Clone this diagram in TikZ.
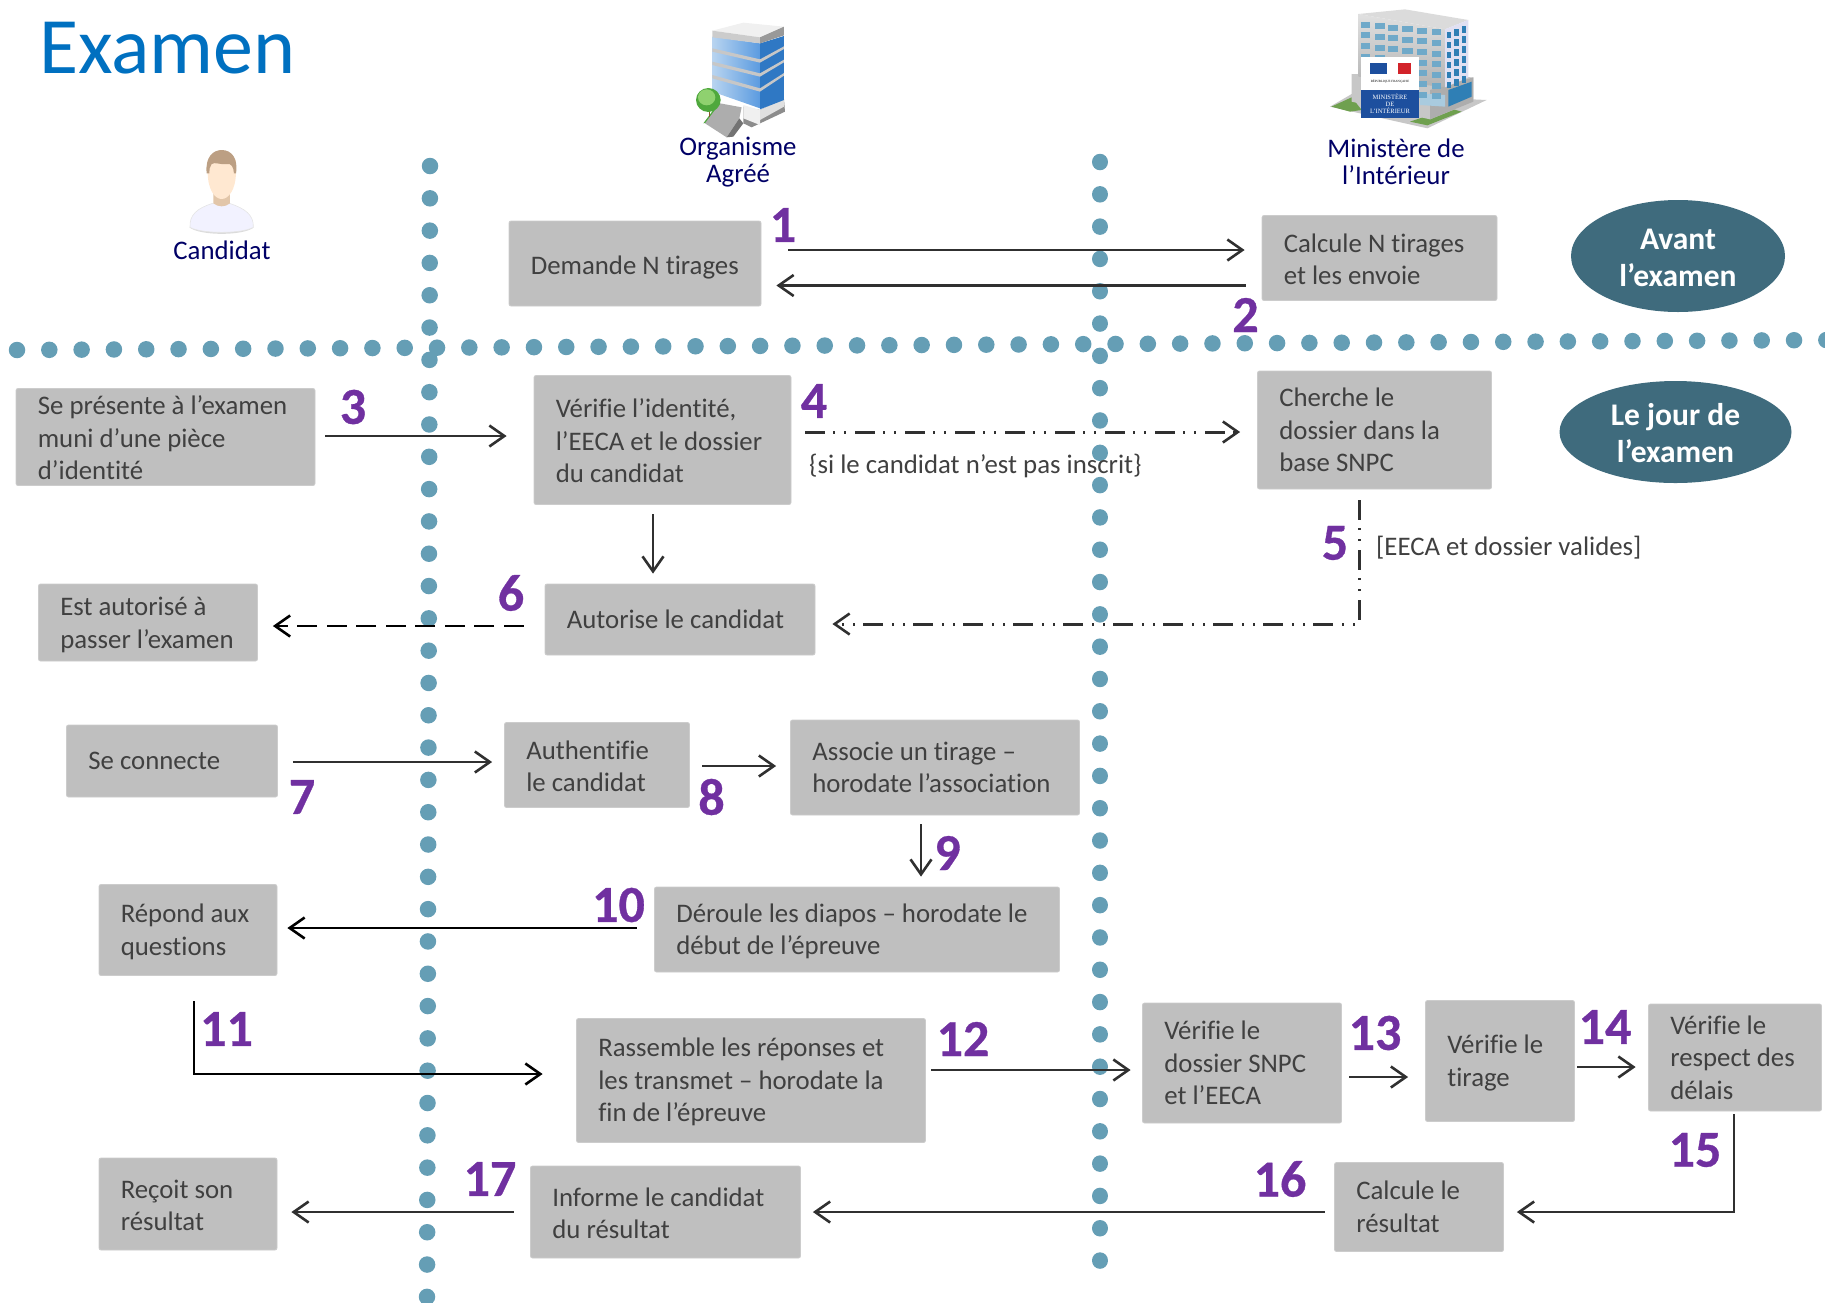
\documentclass[tikz,border=0pt]{standalone}
\usepackage{fontspec}
\setmainfont[Ligatures=NoCommon]{Carlito}
\newfontfamily\serifsmall{Liberation Serif}
\newfontfamily\stepfont[FakeBold=0.6]{Carlito Bold}
\usetikzlibrary{arrows.meta,shapes.geometric}
\definecolor{boxgray}{HTML}{BFBFBF}
\definecolor{boxtext}{HTML}{404040}
\definecolor{dotteal}{HTML}{659EB5}
\definecolor{ovalteal}{HTML}{3F6B7D}
\definecolor{stepviolet}{HTML}{7030A0}
\definecolor{actornavy}{HTML}{000066}
\definecolor{titleblue}{HTML}{0070C0}
\definecolor{linedark}{HTML}{303030}
\definecolor{glasslight}{HTML}{B8D4F0}
\definecolor{glassmid}{HTML}{5B9BE0}
\definecolor{glassdark}{HTML}{2F78C4}
\definecolor{treegreen}{HTML}{4FA83D}
\definecolor{treelight}{HTML}{8FD16F}
\definecolor{winleft}{HTML}{6FA9C9}
\definecolor{winright}{HTML}{2F7FB5}
\definecolor{signblue}{HTML}{1D4F9E}
\definecolor{signred}{HTML}{D2232A}
\definecolor{grass}{HTML}{6FA04F}
\newcommand{\dn}[1]{\rule{0pt}{#1pt}}
\tikzset{
  gbox/.style={fill=boxgray,draw=boxgray!80!white,line width=0.8pt,rounded corners=2pt,inner xsep=21.8pt,inner ysep=0pt,align=flush left,text=boxtext,font=\fontsize{26.8}{32.5}\selectfont},
  oval/.style={ellipse,fill=ovalteal,inner sep=0pt,align=flush center,text=white,font=\fontsize{31.5}{37}\selectfont\bfseries},
  stepnum/.style={text=stepviolet,font=\stepfont\fontsize{52}{52}\selectfont,inner sep=0pt},
  actor/.style={text=actornavy,align=flush center,inner sep=0pt,font=\fontsize{26.8}{27}\selectfont},
  note/.style={text=boxtext,anchor=west,inner sep=0pt,font=\fontsize{26.8}{30}\selectfont},
  flow/.style={draw=linedark,line width=2.7pt,-{Straight Barb[length=15pt,width=21pt,line width=2.6pt]}},
  thinflow/.style={flow,line width=1.9pt},
  blackflow/.style={flow,draw=black},
  dashdotflow/.style={flow,line width=3pt,dash pattern=on 20pt off 8pt on 2pt off 9pt on 2pt off 9pt},
  longdash/.style={blackflow,line width=2.9pt,dash pattern=on 20pt off 9.5pt},
  dotline/.style={draw=dotteal,line width=16.5pt,line cap=round,dash pattern=on 0.01pt off 32.3pt},
}
\begin{document}
\begin{tikzpicture}[x=1pt,y=-1pt]
\useasboundingbox (0,0) rectangle (1825,1302);
% separators
\coordinate (va) at (430,166);
\coordinate (vb) at (427,1298);
\coordinate (wa) at (1100,162);
\coordinate (wb) at (1100,1262);
\coordinate (ha) at (17,350);
\coordinate (hb) at (1836,340);
\draw[dotline] (va) -- (vb);
\draw[dotline] (wa) -- (wb);
\draw[dotline] (ha) -- (hb);
% title
\node[text=titleblue,font=\fontsize{80}{80}\selectfont,inner sep=0pt,anchor=base west] (title) at (39,73) {Examen};
% person icon
\begin{scope}[shift={(170,140)},x=0.3333pt,y=-0.3333pt]
  \fill[black!14] (58,262) .. controls (90,288) and (220,288) .. (252,262) .. controls (220,276) and (90,276) .. (58,262);
  \fill[white!95!blue,draw=black!10,line width=0.6pt] (60,262) .. controls (58,225) and (80,205) .. (128,190) -- (178,190) .. controls (225,205) and (252,225) .. (250,262) .. controls (215,282) and (95,282) .. (60,262) -- cycle;
  \fill[brown!45!white] (130,150) -- (130,190) .. controls (145,202) and (165,202) .. (180,190) -- (180,150) -- cycle;
  \fill[orange!18!white] (113,95) .. controls (113,150) and (135,177) .. (155,177) .. controls (175,177) and (198,150) .. (198,95) -- (198,60) -- (113,60) -- cycle;
  \fill[black!25!brown!60!white] (110,100) .. controls (105,50) and (130,30) .. (155,30) .. controls (185,30) and (205,55) .. (198,100) -- (192,100) .. controls (190,80) and (185,70) .. (170,72) .. controls (150,75) and (135,65) .. (125,72) .. controls (118,80) and (118,90) .. (118,100) -- cycle;
\end{scope}
% organisme icon
\begin{scope}[shift={(680,10)},x=0.3333pt,y=-0.3333pt]
  \fill[black!45] (190,290) -- (240,300) -- (312,268) -- (315,305) -- (215,352) -- (190,340) -- cycle;
  \fill[black!6] (190,285) -- (240,300) -- (240,345) -- (190,325) -- cycle;
  \fill[black!12] (240,300) -- (312,268) -- (312,290) -- (240,330) -- cycle;
  \shade[left color=glasslight,right color=glassmid] (97,80) -- (240,100) -- (240,295) -- (97,245) -- cycle;
  \fill[glassdark] (240,100) -- (312,78) -- (312,270) -- (240,298) -- cycle;
  \foreach \ya/\yb/\yc in {115/148/115,155/190/155,195/235/195}{
    \fill[black!22!white] (97,\ya) -- (240,\yb) -- (312,\yc-6) -- (312,\yc+2) -- (240,\yb+10) -- (97,\ya+10) -- cycle;
  }
  \fill[black!6] (97,62) -- (190,38) -- (312,50) -- (240,82) -- cycle;
  \fill[black!20] (97,62) -- (240,82) -- (240,100) -- (97,82) -- cycle;
  \fill[black!40] (240,82) -- (312,50) -- (312,76) -- (240,100) -- cycle;
  \fill[treegreen] (70,340) -- (115,280) -- (130,290) -- (95,335) -- cycle;
  \fill[black!32] (75,340) -- (120,280) -- (185,292) -- (178,325) -- (140,382) -- cycle;
  \fill[black!55] (140,382) -- (178,325) -- (190,340) -- (160,380) -- cycle;
  \draw[brown!70!black,line width=1.6pt] (88,285) -- (88,320);
  \fill[treegreen] (85,270) ellipse (37 and 36);
  \fill[treelight] (80,262) ellipse (26 and 24);
\end{scope}
% ministere icon
\begin{scope}[shift={(1320,0)},x=0.3333pt,y=-0.3333pt]
  \fill[black!22] (30,320) -- (95,282) -- (500,300) -- (322,385) -- cycle;
  \fill[grass] (34,320) -- (95,292) -- (125,330) -- (90,335) -- cycle;
  \fill[grass] (270,365) -- (390,325) -- (425,335) -- (322,376) -- cycle;
  \fill[black!22] (95,222) -- (460,232) -- (460,305) -- (330,358) -- (95,305) -- cycle;
  \fill[black!32] (330,270) -- (460,232) -- (460,305) -- (330,358) -- cycle;
  \fill[winright] (385,270) -- (455,245) -- (455,290) -- (385,320) -- cycle;
  \fill[winleft!60!white] (300,280) -- (375,285) -- (375,320) -- (300,315) -- cycle;
  \shade[top color=black!12,bottom color=black!30] (115,42) -- (375,88) -- (375,262) -- (115,230) -- cycle;
  \fill[black!14] (115,42) -- (255,28) -- (445,60) -- (375,88) -- cycle;
  \fill[black!42!blue!12!white] (375,88) -- (445,60) -- (445,232) -- (375,262) -- cycle;
  \foreach \c/\w in {122/28,165/30,205/30,245/33,290/30,335/27}{
    \foreach \r in {0,1,2,3,4,5,6}{
      \pgfmathsetmacro{\t}{65+\r*32+(\c-122)*0.11}
      \fill[winleft] (\c,\t) rectangle (\c+\w,\t+18);
    }
  }
  \foreach \c in {380,403,425}{
    \foreach \r in {0,1,2,3,4,5}{
      \pgfmathsetmacro{\t}{95+\r*30-(\c-380)*0.35}
      \fill[winright] (\c,\t) rectangle (\c+14,\t+20);
    }
  }
  \fill[white] (123,172) rectangle (297,270);
  \fill[signblue] (123,270) rectangle (297,353);
  \fill[signblue] (150,190) rectangle (200,222);
  \fill[signred] (235,190) rectangle (272,222);
  \node[text=black,inner sep=0pt,font=\serifsmall\fontsize{3.2}{4}\selectfont] (rf) at (210,243) {RÉPUBLIQUE FRANÇAISE};
  \node[text=white,inner sep=0pt,align=center,font=\serifsmall\fontsize{6.5}{7.4}\selectfont] (mi) at (210,311) {MINISTÈRE\\DE\\L’INTÉRIEUR};
\end{scope}
% actors
\node[actor] (candidat) at (222,250.5) {Candidat};
\node[actor] (organisme) at (738,162.5) {Organisme\\Agréé};
\node[actor] (ministere) at (1396,162) {Ministère de\\l’Intérieur};
% phases
\node[oval,minimum width=214pt,minimum height=112pt] (avant) at (1678,256) {\dn{25}Avant\\l’examen};
\node[oval,minimum width=232pt,minimum height=102pt] (jour) at (1675.5,432) {\dn{25}Le jour de\\l’examen};
% boxes
\node[gbox,text width=208.4pt,minimum height=85pt] (dem) at (635,263.5) {\dn{26}Demande N tirages};
\node[gbox,text width=191.4pt,minimum height=85pt] (calc) at (1379.5,258) {\dn{21}Calcule N tirages\\et les envoie};
\node[gbox,text width=255.4pt,minimum height=97pt] (pres) at (165.5,437) {\dn{21}Se présente à l’examen\\muni d’une pièce\\d’identité};
\node[gbox,text width=213.4pt,minimum height=129pt] (ver) at (662.5,440) {\dn{21}Vérifie l’identité,\\l’EECA et le dossier\\du candidat};
\node[gbox,text width=190.4pt,minimum height=118pt] (cher) at (1374.5,430) {Cherche le\\dossier dans la\\base SNPC};
\node[gbox,text width=226.4pt,minimum height=71pt] (aut) at (680,619.5) {Autorise le candidat};
\node[gbox,text width=175.4pt,minimum height=77pt] (est) at (148,622.5) {\dn{23}Est autorisé à\\passer l’examen};
\node[gbox,text width=167.4pt,minimum height=72pt] (conn) at (172,761) {Se connecte};
\node[gbox,text width=141.4pt,minimum height=85pt] (auth) at (597,765) {\dn{21}Authentifie\\le candidat};
\node[gbox,text width=245.4pt,minimum height=95pt] (asso) at (935,767.5) {Associe un tirage --\\horodate l’association};
\node[gbox,text width=361.4pt,minimum height=85pt] (der) at (857,929.5) {\dn{22}Déroule les diapos -- horodate le\\début de l’épreuve};
\node[gbox,text width=134.4pt,minimum height=91pt] (rep) at (188,930) {\dn{22}Répond aux\\questions};
\node[gbox,text width=305.4pt,minimum height=124pt] (ras) at (751,1080.5) {\dn{22}Rassemble les réponses et\\les transmet -- horodate la\\fin de l’épreuve};
\node[gbox,text width=155.4pt,minimum height=120pt] (vdos) at (1242,1063) {Vérifie le\\dossier SNPC\\et l’EECA};
\node[gbox,text width=105.4pt,minimum height=121pt] (vtir) at (1500,1061) {\dn{23}Vérifie le\\tirage};
\node[gbox,text width=129.4pt,minimum height=107pt] (vres) at (1735,1057.5) {Vérifie le\\respect des\\délais};
\node[gbox,text width=125.4pt,minimum height=89pt] (cres) at (1419,1207) {Calcule le\\résultat};
\node[gbox,text width=226.4pt,minimum height=92pt] (inf) at (665.5,1212) {\dn{21}Informe le candidat\\du résultat};
\node[gbox,text width=134.4pt,minimum height=92pt] (rec) at (188,1204) {\dn{21}Reçoit son\\résultat};
% notes
\node[note] (n4) at (809,466) {\{si le candidat n’est pas inscrit\}};
\node[note] (n5) at (1376,548) {[EECA et dossier valides]};
% step numbers
\node[stepnum] (s1) at (783,225) {1};
\node[stepnum] (s2) at (1245.5,315) {2};
\node[stepnum] (s3) at (353,407) {3};
\node[stepnum] (s4) at (814,401) {4};
\node[stepnum] (s5) at (1335,543) {5};
\node[stepnum] (s6) at (511,593) {6};
\node[stepnum] (s7) at (302,797) {7};
\node[stepnum] (s8) at (711.5,797) {8};
\node[stepnum] (s9) at (947.5,853) {9};
\node[stepnum] (s10) at (618.5,905) {10};
\node[stepnum] (s11) at (226.5,1029) {11};
\node[stepnum] (s12) at (963,1039) {12};
\node[stepnum] (s13) at (1375,1033) {13};
\node[stepnum] (s14) at (1605,1027) {14};
\node[stepnum] (s15) at (1695,1150) {15};
\node[stepnum] (s16) at (1280,1179) {16};
\node[stepnum] (s17) at (490,1179) {17};
% connectors
\draw[flow] ([shift={(27,-13.5)}]dem.east) -- ([shift={(-17,-8)}]calc.west);
\draw[flow] ([shift={(-16,27.5)}]calc.west) -- ([shift={(15,22)}]dem.east);
\draw[flow] ([shift={(10,-1)}]pres.east) -- ([shift={(-27,-4)}]ver.west);
\draw[dashdotflow] ([shift={(14,-8)}]ver.east) -- ([shift={(-17,2)}]cher.west);
\draw[dashdotflow] ([shift={(-15.5,11)}]cher.south) |- ([shift={(17,4.5)}]aut.east);
\draw[thinflow] ([shift={(-9.5,9.5)}]ver.south) -- ([shift={(-27,-10)}]aut.north);
\draw[longdash] ([shift={(-21,6.5)}]aut.west) -- ([shift={(15,3.5)}]est.east);
\draw[flow] ([shift={(15,1)}]conn.east) -- ([shift={(-12,-3)}]auth.west);
\draw[flow] ([shift={(12.5,1)}]auth.east) -- ([shift={(-14,-1.5)}]asso.west);
\draw[thinflow] ([shift={(-14,9)}]asso.south) -- ([shift={(64,-10)}]der.north);
\draw[blackflow] ([shift={(-17.5,-1.5)}]der.west) -- ([shift={(10,-2)}]rep.east);
\draw[blackflow] ([shift={(6,25.5)}]rep.south) |- ([shift={(-33.5,-6.5)}]ras.west);
\draw[flow] ([shift={(5.5,-10.5)}]ras.east) -- ([shift={(-11.5,7)}]vdos.west);
\draw[flow] ([shift={(7.5,14)}]vdos.east) -- ([shift={(-17,16)}]vtir.west);
\draw[flow] ([shift={(2.5,6)}]vtir.east) -- ([shift={(-12.5,9.5)}]vres.west);
\draw[flow] ([shift={(-1,3)}]vres.south) |- ([shift={(13,5)}]cres.east);
\draw[flow] ([shift={(-9.5,5)}]cres.west) -- ([shift={(12,0)}]inf.east);
\draw[flow] ([shift={(-16.5,0)}]inf.west) -- ([shift={(14,8)}]rec.east);
\end{tikzpicture}
\end{document}
